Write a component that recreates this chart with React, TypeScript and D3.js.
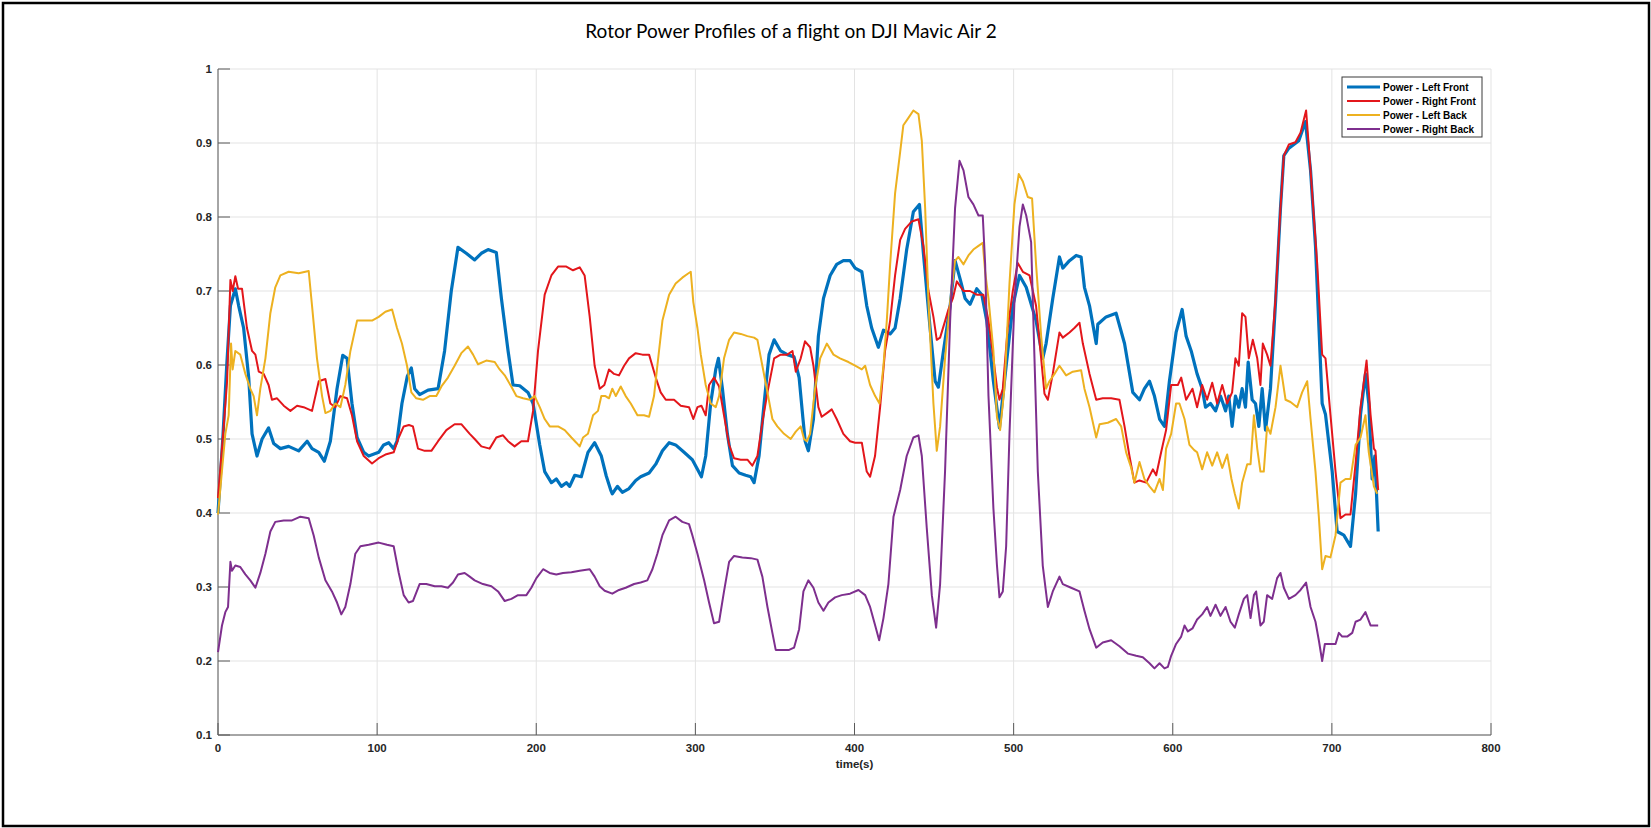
import React from 'react'
import * as d3 from 'd3'

type Pt = [number, number]

// time (s) / normalised power
const leftFront: Pt[] = [
  [0, 0.40], [3, 0.50], [5.5, 0.60], [7.8, 0.68], [10.9, 0.703], [13, 0.68], [16.1, 0.65], [19.3, 0.583], [21.4, 0.507], [24.5, 0.477],
  [27.7, 0.50], [31.8, 0.515], [35, 0.494], [39.2, 0.487], [44.4, 0.49], [50.7, 0.484], [56, 0.497], [59.1, 0.487], [63.3, 0.482], [66.8, 0.47],
  [70.6, 0.497], [74.8, 0.568], [78.4, 0.613], [81.1, 0.609], [84.2, 0.548], [87.4, 0.502], [91.6, 0.482], [94.7, 0.477], [101, 0.482], [104.1, 0.492],
  [107.3, 0.495], [110.4, 0.487], [112.5, 0.497], [115.6, 0.548], [119, 0.585], [121.5, 0.596], [123.6, 0.568], [126.7, 0.56], [132, 0.566], [138.3, 0.568],
  [142.4, 0.619], [146.6, 0.70], [150.8, 0.759], [156, 0.751], [161.3, 0.742], [165.5, 0.751], [169.7, 0.756], [174.9, 0.752], [178.1, 0.69], [182.3, 0.619],
  [185.4, 0.573], [189.6, 0.572], [194.8, 0.563], [198, 0.548], [202.2, 0.492], [205.3, 0.456], [209.5, 0.441], [212.6, 0.446], [215.8, 0.436], [218.9, 0.441],
  [221, 0.436], [224.2, 0.451], [228.3, 0.449], [232.5, 0.482], [236.7, 0.495], [240.9, 0.477], [244, 0.45], [246.8, 0.431], [247.8, 0.426], [251, 0.436],
  [254.1, 0.428], [258.3, 0.433], [262.5, 0.444], [265.6, 0.449], [270.9, 0.454], [275.1, 0.466], [279.3, 0.484], [283.5, 0.495], [287.6, 0.492], [292.9, 0.482],
  [298.1, 0.472], [301.3, 0.459], [303.8, 0.449], [306.5, 0.477], [309.6, 0.548], [312.8, 0.594], [314.5, 0.609], [317, 0.568], [320.1, 0.507], [323.3, 0.464],
  [327.5, 0.454], [331.6, 0.451], [334.8, 0.449], [336.9, 0.441], [340, 0.477], [343.2, 0.548], [346.3, 0.614], [349.5, 0.634], [353.6, 0.619], [357.8, 0.614],
  [362, 0.611], [365.2, 0.583], [367.5, 0.53], [369, 0.497], [371, 0.484], [374.2, 0.527], [377.3, 0.639], [380.5, 0.69], [384.7, 0.721], [388.8, 0.736],
  [393, 0.741], [397.2, 0.741], [400.4, 0.731], [404.6, 0.726], [407.7, 0.68], [410.8, 0.65], [415, 0.624], [418.2, 0.647], [422.4, 0.642], [425.5, 0.65],
  [428.7, 0.69], [432.8, 0.756], [437, 0.807], [440.8, 0.817], [443.3, 0.751], [447.5, 0.65], [450.7, 0.578], [452.7, 0.57], [455.9, 0.619], [460.1, 0.68],
  [463.2, 0.741], [466.4, 0.716], [469.5, 0.69], [472.6, 0.682], [476.8, 0.703], [480, 0.695], [483.1, 0.66], [487.3, 0.578], [491.1, 0.515], [495.3, 0.599],
  [499.5, 0.68], [503.7, 0.721], [507.9, 0.705], [514.1, 0.66], [518.3, 0.609], [520.4, 0.629], [524.6, 0.69], [528.8, 0.746], [530.9, 0.731], [535.1, 0.741],
  [539.3, 0.748], [542.4, 0.746], [544.5, 0.705], [547.7, 0.68], [551.9, 0.629], [552.9, 0.655], [558.1, 0.665], [564.4, 0.67], [569.7, 0.629], [574.9, 0.563],
  [579.1, 0.553], [582.2, 0.568], [585.4, 0.578], [588.5, 0.558], [591.7, 0.527], [594.8, 0.517], [597.9, 0.578], [602.1, 0.644], [605.9, 0.675], [608.4, 0.639],
  [611.6, 0.619], [615.3, 0.588], [618.5, 0.568], [620.6, 0.543], [623.7, 0.548], [626.9, 0.538], [630, 0.558], [633.2, 0.538], [635.2, 0.558], [637.3, 0.517],
  [639.4, 0.558], [641.5, 0.543], [643.6, 0.568], [645.7, 0.543], [647.4, 0.604], [649.9, 0.553], [652, 0.548], [654.1, 0.517], [656.2, 0.568], [658.3, 0.512],
  [661.4, 0.568], [664.6, 0.685], [667.7, 0.812], [669.8, 0.883], [673, 0.893], [676.1, 0.898], [679.2, 0.903], [683.4, 0.929], [686.6, 0.863], [689.7, 0.761],
  [693.9, 0.548], [696, 0.533], [700.2, 0.456], [703.3, 0.375], [707.5, 0.37], [711.7, 0.355], [714.9, 0.426], [718, 0.533], [721.1, 0.588], [723.2, 0.548],
  [725.3, 0.446], [727, 0.477], [729.1, 0.375],
]

const rightFront: Pt[] = [
  [0, 0.42], [3.6, 0.517], [5.7, 0.578], [7.8, 0.715], [9.2, 0.70], [10.9, 0.72], [12.6, 0.703], [15.1, 0.703], [18.2, 0.65], [21.4, 0.619],
  [23.5, 0.614], [25.6, 0.591], [28.7, 0.588], [31.8, 0.573], [33.9, 0.553], [37.1, 0.555], [41.3, 0.545], [45.5, 0.538], [49.7, 0.545], [53.8, 0.543],
  [59.1, 0.538], [63.3, 0.578], [67.5, 0.581], [70.6, 0.548], [73.7, 0.543], [76.9, 0.558], [81.1, 0.555], [84.2, 0.532], [87.4, 0.497], [91.6, 0.477],
  [96.8, 0.467], [101, 0.474], [105.2, 0.479], [110.4, 0.482], [113.6, 0.502], [116.7, 0.517], [120, 0.519], [122.5, 0.517], [125.7, 0.487], [129.9, 0.484],
  [134.1, 0.484], [138.3, 0.497], [143.5, 0.512], [148.7, 0.52], [152.9, 0.52], [158.2, 0.507], [161.3, 0.5], [165.5, 0.49], [170.7, 0.487], [174.9, 0.502],
  [179.1, 0.505], [182.3, 0.497], [186.4, 0.49], [190.6, 0.497], [194.8, 0.497], [198, 0.538], [201.1, 0.619], [205.3, 0.695], [209.5, 0.721], [213.7, 0.733],
  [218.9, 0.733], [223.1, 0.728], [227.3, 0.732], [230.4, 0.721], [233.6, 0.665], [236.7, 0.599], [239.9, 0.568], [242.8, 0.573], [245.7, 0.594], [248.9, 0.588],
  [252, 0.586], [255.2, 0.599], [258.3, 0.609], [262.5, 0.616], [266.7, 0.614], [270.9, 0.614], [275.1, 0.583], [278.2, 0.563], [281.4, 0.553], [286.6, 0.553],
  [290.8, 0.545], [296, 0.543], [298.7, 0.527], [301.3, 0.543], [303.8, 0.545], [306.5, 0.532], [308.6, 0.573], [311.7, 0.583], [314.9, 0.571], [318, 0.532],
  [321.2, 0.492], [324.3, 0.474], [328.5, 0.472], [332.7, 0.472], [335.8, 0.464], [339, 0.477], [342.1, 0.522], [345.3, 0.563], [349.5, 0.609], [353.6, 0.614],
  [357.8, 0.614], [361, 0.619], [363.1, 0.591], [366.2, 0.609], [368.9, 0.632], [372.1, 0.624], [374.2, 0.599], [377.3, 0.543], [379.4, 0.53], [382.6, 0.535],
  [385.7, 0.54], [388.8, 0.527], [393, 0.507], [397.2, 0.497], [400.4, 0.495], [404.6, 0.495], [407.7, 0.456], [409.8, 0.449], [412.9, 0.477], [416.1, 0.543],
  [419.2, 0.619], [422.4, 0.66], [425.5, 0.721], [428.7, 0.769], [431.8, 0.784], [436, 0.794], [440.2, 0.797], [443.3, 0.761], [446.5, 0.70], [449.6, 0.665],
  [451.7, 0.634], [453.8, 0.637], [457, 0.66], [459, 0.675], [461.8, 0.69], [464.3, 0.713], [468.5, 0.70], [472.6, 0.70], [476.8, 0.695], [481, 0.695],
  [484.2, 0.66], [487.3, 0.609], [489.5, 0.57], [491.1, 0.553], [493.2, 0.568], [496.3, 0.65], [499.5, 0.70], [502.6, 0.738], [505.8, 0.726], [510, 0.721],
  [514.1, 0.68], [517.3, 0.609], [519.4, 0.561], [521.5, 0.553], [524.6, 0.588], [528.8, 0.644], [530.9, 0.637], [535.1, 0.644], [538.2, 0.65], [541.4, 0.657],
  [543.5, 0.629], [547.7, 0.588], [551.9, 0.553], [556, 0.555], [561.3, 0.555], [566.5, 0.553], [569.7, 0.517], [572.8, 0.477], [575.9, 0.441], [579.1, 0.444],
  [583.3, 0.441], [587.5, 0.459], [589.6, 0.451], [592.7, 0.482], [595.8, 0.512], [599, 0.573], [603.2, 0.573], [605.3, 0.583], [608.4, 0.553], [612.4, 0.568],
  [615.3, 0.543], [618.5, 0.573], [621.6, 0.553], [624.8, 0.576], [627.9, 0.548], [631.1, 0.573], [634.2, 0.548], [637.3, 0.563], [639.4, 0.609], [641.5, 0.599],
  [643.6, 0.67], [645.7, 0.665], [647.8, 0.609], [650.3, 0.634], [653.1, 0.609], [655.1, 0.573], [656.6, 0.629], [659.3, 0.614], [661.4, 0.599], [664.6, 0.69],
  [667.7, 0.812], [669.8, 0.883], [673, 0.898], [677.1, 0.901], [680.3, 0.914], [683.8, 0.944], [686.6, 0.863], [690.8, 0.736], [693.9, 0.614], [696, 0.609],
  [699.1, 0.533], [702.3, 0.456], [705.4, 0.393], [708.6, 0.398], [711.7, 0.398], [714.9, 0.467], [718, 0.543], [721.8, 0.606], [724.3, 0.533], [726.4, 0.487],
  [727.4, 0.484], [729.1, 0.431],
]

const leftBack: Pt[] = [
  [0, 0.398], [4.6, 0.507], [6.7, 0.532], [8.2, 0.629], [9.2, 0.594], [10.9, 0.619], [14, 0.614], [17.2, 0.588], [20.3, 0.568], [22.4, 0.558],
  [24.5, 0.532], [26.6, 0.568], [29.8, 0.609], [32.9, 0.67], [36, 0.705], [39.2, 0.721], [44.4, 0.726], [50.7, 0.724], [57, 0.727], [59.1, 0.68],
  [62.2, 0.609], [65.4, 0.558], [67.5, 0.535], [70.6, 0.538], [73.7, 0.548], [76.9, 0.543], [80, 0.573], [83.2, 0.619], [87.4, 0.66], [92.6, 0.66],
  [96.8, 0.66], [101, 0.665], [105.2, 0.672], [109.4, 0.675], [112.5, 0.65], [115.6, 0.629], [118.8, 0.599], [121.5, 0.563], [124.6, 0.555], [128.8, 0.553],
  [133, 0.558], [137.2, 0.558], [140.4, 0.571], [144.5, 0.583], [148.7, 0.599], [152.9, 0.616], [157.1, 0.625], [160.3, 0.614], [163.4, 0.601], [168.6, 0.606],
  [173.9, 0.604], [177, 0.594], [180.2, 0.586], [184.3, 0.571], [187.5, 0.558], [191.7, 0.555], [195.9, 0.553], [199, 0.558], [202.2, 0.543], [205.3, 0.527],
  [208.5, 0.517], [213.7, 0.517], [217.9, 0.512], [222.1, 0.502], [225.2, 0.495], [227.3, 0.49], [229.4, 0.502], [232.5, 0.507], [235.7, 0.532], [238.8, 0.538],
  [240.9, 0.558], [243.5, 0.558], [245.7, 0.555], [247.8, 0.568], [250, 0.558], [253.1, 0.571], [256.2, 0.558], [259.4, 0.548], [263.6, 0.532], [267.7, 0.532],
  [270.9, 0.53], [274, 0.558], [276.1, 0.599], [279.3, 0.66], [283.5, 0.695], [287.6, 0.71], [291.8, 0.718], [295, 0.723], [297.1, 0.726], [298.7, 0.685],
  [301.3, 0.65], [303.4, 0.614], [306.5, 0.573], [309.6, 0.548], [312.8, 0.543], [314.9, 0.558], [318, 0.609], [321.2, 0.634], [324.3, 0.644], [328.5, 0.642],
  [332.7, 0.639], [336.9, 0.637], [339, 0.634], [342.1, 0.599], [345.3, 0.563], [348.4, 0.527], [351.5, 0.517], [355.7, 0.507], [359.9, 0.50], [363.1, 0.51],
  [366.2, 0.517], [368.3, 0.50], [370, 0.497], [372.1, 0.507], [375.2, 0.568], [378.4, 0.609], [382.6, 0.629], [386.8, 0.614], [390.9, 0.609], [396.2, 0.604],
  [400.4, 0.599], [404.6, 0.594], [406.7, 0.599], [409.8, 0.573], [413, 0.558], [415.7, 0.548], [418.2, 0.599], [420.3, 0.66], [422.4, 0.736], [425.5, 0.832],
  [428.7, 0.888], [430.7, 0.924], [433.9, 0.934], [437, 0.944], [440.2, 0.939], [442.3, 0.903], [444.4, 0.812], [446.5, 0.685], [449.6, 0.548], [451.7, 0.484],
  [453.8, 0.517], [456.9, 0.609], [460.1, 0.685], [463.2, 0.741], [465.3, 0.746], [468.5, 0.736], [471.6, 0.748], [474.7, 0.756], [477.9, 0.761], [480.6, 0.765],
  [482.1, 0.726], [484.2, 0.69], [487.3, 0.619], [489.5, 0.53], [491.5, 0.512], [494.2, 0.568], [497.4, 0.71], [500.5, 0.817], [503.2, 0.858], [505.8, 0.848],
  [508.9, 0.827], [511.6, 0.825], [514.1, 0.736], [517.3, 0.639], [520.4, 0.568], [522.5, 0.578], [525.7, 0.588], [528.8, 0.599], [533, 0.586], [537.2, 0.591],
  [542.4, 0.593], [544.5, 0.568], [547.7, 0.543], [551.9, 0.502], [554, 0.52], [559.2, 0.522], [564.4, 0.527], [567.6, 0.517], [570.7, 0.482], [573.9, 0.461],
  [575.9, 0.441], [579.1, 0.469], [582.2, 0.446], [585.4, 0.436], [588.5, 0.428], [591.7, 0.446], [593.8, 0.431], [595.8, 0.487], [599, 0.507], [602.1, 0.548],
  [604.2, 0.548], [607.4, 0.527], [610.5, 0.492], [613.5, 0.485], [615.3, 0.482], [618.5, 0.459], [621.6, 0.482], [624.8, 0.464], [627.9, 0.482], [631.1, 0.461],
  [634.2, 0.479], [636.9, 0.446], [639, 0.426], [641.5, 0.406], [643.6, 0.441], [646.8, 0.466], [648.9, 0.466], [651, 0.532], [653.1, 0.487], [655.1, 0.456],
  [657.2, 0.456], [659.3, 0.517], [661.4, 0.507], [664.6, 0.543], [667.7, 0.599], [670.9, 0.553], [674, 0.55], [678.2, 0.543], [681.3, 0.563], [684.5, 0.578],
  [686.6, 0.527], [689.7, 0.456], [691.8, 0.395], [693.9, 0.324], [696, 0.342], [699.1, 0.34], [702.3, 0.37], [705.4, 0.441], [708.6, 0.446], [711.7, 0.446],
  [714.9, 0.492], [718, 0.502], [721.1, 0.532], [723.2, 0.482], [726.4, 0.436], [728.5, 0.426],
]

const rightBack: Pt[] = [
  [0, 0.212], [2.5, 0.248], [4.6, 0.266], [6.3, 0.273], [7.8, 0.334], [8.8, 0.322], [10.9, 0.329], [14, 0.327], [17.2, 0.317], [20.3, 0.309],
  [23.5, 0.299], [26.6, 0.319], [29.8, 0.345], [32.9, 0.375], [36, 0.388], [41.3, 0.39], [46.5, 0.39], [51.8, 0.395], [57, 0.393], [60.1, 0.37],
  [63.3, 0.34], [67.5, 0.309], [71.6, 0.294], [74.8, 0.279], [77.5, 0.263], [80, 0.273], [83.2, 0.304], [86.3, 0.345], [89.5, 0.355], [94.7, 0.357],
  [101, 0.36], [106.2, 0.357], [110.4, 0.355], [113.6, 0.319], [116.7, 0.289], [119.8, 0.279], [122.5, 0.281], [126.7, 0.304], [130.9, 0.304], [136.2, 0.301],
  [140.4, 0.301], [144.5, 0.299], [147.7, 0.306], [150.8, 0.317], [155, 0.319], [158.2, 0.314], [161.3, 0.309], [166.5, 0.304], [171.8, 0.301], [176, 0.294],
  [180.2, 0.281], [184.4, 0.284], [188.5, 0.289], [193.8, 0.289], [196.9, 0.299], [200.1, 0.312], [204.3, 0.324], [208.4, 0.319], [212.6, 0.317], [216.8, 0.319],
  [222.1, 0.32], [227.3, 0.322], [233.6, 0.324], [236.7, 0.314], [239.9, 0.301], [243, 0.295], [247.8, 0.291], [252, 0.296], [256.2, 0.299], [261.5, 0.304],
  [265.6, 0.306], [269.8, 0.309], [273, 0.324], [276.1, 0.345], [279.3, 0.37], [283.5, 0.39], [287.6, 0.395], [291.8, 0.388], [296, 0.385], [298.1, 0.37],
  [301.3, 0.345], [305.5, 0.309], [308.6, 0.279], [311.7, 0.251], [314.9, 0.253], [318, 0.294], [321.2, 0.334], [324.3, 0.342], [329.5, 0.34], [334.8, 0.339],
  [339, 0.337], [342.1, 0.314], [345.3, 0.273], [348.4, 0.238], [350.5, 0.215], [354.7, 0.215], [358.9, 0.215], [362, 0.218], [365.2, 0.243], [367.9, 0.294],
  [371, 0.309], [374.2, 0.299], [377.3, 0.279], [380.5, 0.268], [383.6, 0.279], [387.8, 0.286], [392, 0.289], [397.2, 0.291], [402.5, 0.296], [406.7, 0.289],
  [409.8, 0.273], [413, 0.248], [415.5, 0.228], [418.2, 0.258], [421.3, 0.304], [424.5, 0.395], [428.7, 0.431], [432.8, 0.477], [437, 0.502], [440.2, 0.505],
  [442.3, 0.477], [445.4, 0.38], [448.6, 0.289], [451.3, 0.245], [453.8, 0.304], [456.9, 0.456], [460.1, 0.66], [463.2, 0.812], [466, 0.876], [468.5, 0.863],
  [471.6, 0.827], [474.7, 0.817], [477.9, 0.802], [480.6, 0.802], [482.1, 0.736], [484.2, 0.558], [487.3, 0.406], [489.5, 0.33], [491.1, 0.286], [493.2, 0.294],
  [495.3, 0.355], [497.4, 0.507], [500.5, 0.685], [503.7, 0.787], [505.8, 0.817], [507.9, 0.802], [511, 0.766], [513.1, 0.609], [515.2, 0.456], [518.3, 0.329],
  [521.5, 0.273], [524.6, 0.294], [528.8, 0.314], [530.9, 0.304], [536.1, 0.299], [541.4, 0.294], [544.5, 0.268], [547.7, 0.243], [551.9, 0.218], [556, 0.225],
  [561.3, 0.228], [566.5, 0.22], [571.8, 0.21], [577, 0.207], [581.2, 0.205], [585.4, 0.197], [588.5, 0.19], [591.7, 0.197], [594.8, 0.19], [596.9, 0.192],
  [599, 0.207], [602.1, 0.223], [605.3, 0.233], [607.4, 0.248], [609.5, 0.24], [612.4, 0.244], [615.3, 0.256], [618.5, 0.263], [621.6, 0.273], [623.7, 0.261],
  [626.9, 0.276], [630, 0.261], [633.2, 0.273], [636.3, 0.253], [639, 0.245], [641.5, 0.263], [644.7, 0.284], [646.8, 0.289], [648.9, 0.258], [651, 0.289],
  [652.4, 0.294], [655.1, 0.248], [657.2, 0.253], [659.3, 0.289], [662.5, 0.284], [665.6, 0.312], [667.7, 0.319], [669.8, 0.299], [673, 0.284], [677.1, 0.289],
  [680.3, 0.296], [683.8, 0.306], [686.6, 0.273], [689.7, 0.253], [691.8, 0.228], [693.9, 0.2], [695.6, 0.223], [699.1, 0.223], [702.3, 0.223], [704.4, 0.238],
  [706.5, 0.233], [709.6, 0.233], [712.8, 0.238], [714.9, 0.253], [718, 0.256], [721.1, 0.266], [724.3, 0.248], [727, 0.248], [729.1, 0.248],
]

const seriesNames = ['Power - Left Front', 'Power - Right Front', 'Power - Left Back', 'Power - Right Back']
const seriesColors = ['#0072bd', '#e3161b', '#edb120', '#7e2f8e']
const seriesWidths = [3.2, 2, 2, 2]
const xTicks = [0, 100, 200, 300, 400, 500, 600, 700, 800]
const yTicks = [0.1, 0.2, 0.3, 0.4, 0.5, 0.6, 0.7, 0.8, 0.9, 1]

const W = 1651
const H = 828
const plot = { left: 218, right: 1491, top: 69, bottom: 735 }
const tickFont = '"Liberation Sans", Arial, sans-serif'

export default function App() {
  const x = d3.scaleLinear().domain([0, 800]).range([plot.left, plot.right])
  const y = d3.scaleLinear().domain([0.1, 1]).range([plot.bottom, plot.top])
  const line = d3.line<Pt>().x(d => x(d[0])).y(d => y(d[1]))
  const series = [leftFront, rightFront, leftBack, rightBack]

  return (
    <svg width={W} height={H} style={{ position: 'absolute', left: 0, top: 0, background: '#fff' }}>
      <rect x={3} y={3} width={W - 5} height={H - 5} fill="#fff" stroke="#000" strokeWidth={2.5} />

      <text x={791} y={38} textAnchor="middle" fontFamily="Lato, 'Open Sans', sans-serif" fontSize={19} fill="#000">
        Rotor Power Profiles of a flight on DJI Mavic Air 2
      </text>

      {/* grid */}
      <g stroke="#e3e3e3" strokeWidth={1}>
        {xTicks.map(t => <line key={'gx' + t} x1={x(t)} x2={x(t)} y1={plot.top} y2={plot.bottom} />)}
        {yTicks.map(t => <line key={'gy' + t} x1={plot.left} x2={plot.right} y1={y(t)} y2={y(t)} />)}
      </g>

      {/* axes, MATLAB style inward ticks */}
      <g stroke="#5a5a5a" strokeWidth={1}>
        <line x1={plot.left} x2={plot.right} y1={plot.bottom} y2={plot.bottom} />
        <line x1={plot.left} x2={plot.left} y1={plot.top} y2={plot.bottom} />
        {xTicks.map(t => <line key={'tx' + t} x1={x(t)} x2={x(t)} y1={plot.bottom} y2={plot.bottom - 12} />)}
        {yTicks.map(t => <line key={'ty' + t} x1={plot.left} x2={plot.left + 12} y1={y(t)} y2={y(t)} />)}
      </g>

      <g fontFamily={tickFont} fontWeight="bold" fontSize={11.5} fill="#262626">
        {xTicks.map(t => (
          <text key={'lx' + t} x={x(t)} y={plot.bottom + 17} textAnchor="middle">{t}</text>
        ))}
        {yTicks.map(t => (
          <text key={'ly' + t} x={plot.left - 6} y={y(t)} dy="0.35em" textAnchor="end">{t === 1 ? '1' : t.toFixed(1)}</text>
        ))}
        <text x={(plot.left + plot.right) / 2} y={plot.bottom + 33} textAnchor="middle">time(s)</text>
      </g>

      {series.map((s, i) => (
        <path key={seriesNames[i]} d={line(s) || ''} fill="none" stroke={seriesColors[i]}
          strokeWidth={seriesWidths[i]} strokeLinejoin="round" />
      ))}

      {/* legend */}
      <g>
        <rect x={1342} y={77} width={140} height={60} fill="#fff" stroke="#3a3a3a" strokeWidth={1} />
        {seriesNames.map((name, i) => (
          <g key={name} transform={`translate(0, ${87 + i * 14})`}>
            <line x1={1347} x2={1380} y1={0} y2={0} stroke={seriesColors[i]} strokeWidth={seriesWidths[i]} />
            <text x={1383} y={0} dy="0.35em" fontFamily={tickFont} fontWeight="bold" fontSize={10} fill="#000">{name}</text>
          </g>
        ))}
      </g>
    </svg>
  )
}
